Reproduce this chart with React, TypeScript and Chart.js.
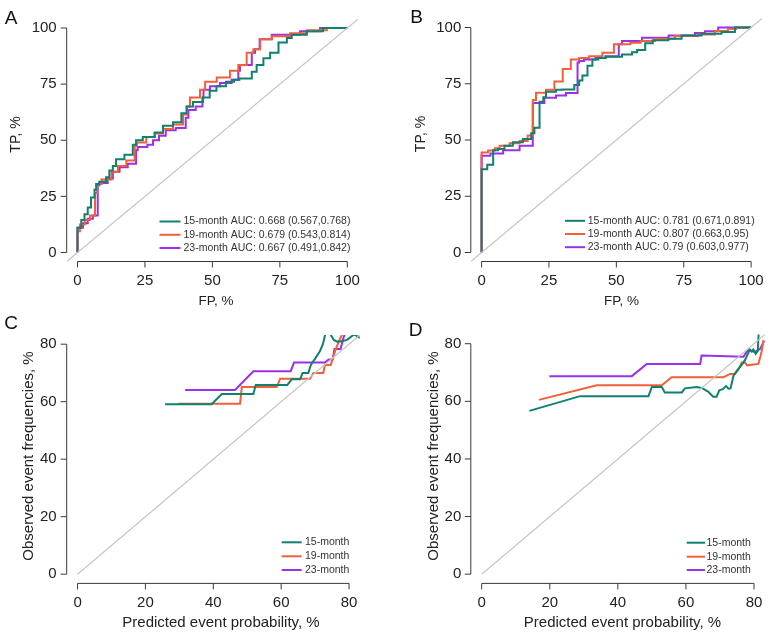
import React, { useEffect, useRef } from "react";
import { Chart, registerables } from "chart.js";

Chart.register(...registerables);

const FONT = "'Liberation Sans', Arial, Helvetica, sans-serif";
const TEAL = "#10806f";
const ORANGE = "#f0603a";
const PURPLE = "#9a30e8";
const DIAG = "#c6c6c6";
const AXIS = "#3a3a3a";
const TEXT = "#222222";

type Pt = [number, number];

// ---------- DATA ----------
const ROC_TICKS = [0, 25, 50, 75, 100];
const CAL_TICKS = [0, 20, 40, 60, 80];
const SERIES_NAMES = ["15-month", "19-month", "23-month"];
const COLORS = [TEAL, ORANGE, PURPLE];

const AUC_A = [
  "15-month AUC: 0.668 (0.567,0.768)",
  "19-month AUC: 0.679 (0.543,0.814)",
  "23-month AUC: 0.667 (0.491,0.842)",
];
const AUC_B = [
  "15-month AUC: 0.781 (0.671,0.891)",
  "19-month AUC: 0.807 (0.663,0.95)",
  "23-month AUC: 0.79 (0.603,0.977)",
];

// ROC A (FP %, TP %) - step points
const rocA15: Pt[] = [
  [0, 0], [0, 9], [1.4, 11], [2.6, 14.5], [3.8, 17], [5, 20], [6.3, 24.5], [6.9, 28], [8.1, 30.5],
  [10.6, 31.5], [11.8, 33.5], [13.1, 36.5], [14.3, 38.5], [17.4, 41.5], [20.5, 43.5], [21.7, 48],
  [24.2, 50], [28.6, 51.5], [31.7, 53.5], [35.4, 56.5], [38.5, 58], [40.4, 62], [42.8, 65], [46.5, 67],
  [49, 69], [51.5, 72], [55, 74], [58, 76], [60, 77], [64.6, 77.5], [66.4, 80.5], [68.9, 83.5],
  [71.4, 86.5], [74.5, 89], [77.6, 93.5], [79.4, 95.5], [85, 97], [91, 98.5], [96, 100], [100, 100],
];
const rocA19: Pt[] = [
  [0, 0], [0, 8], [0.9, 9.5], [2.7, 12.5], [4.6, 14.5], [6.5, 16.5], [7.3, 26.5], [8.9, 30.5],
  [12.6, 32.5], [15, 36], [18.1, 38.5], [21.2, 41], [22, 47.5], [25.5, 49], [28.6, 51.5], [31.7, 53],
  [35.4, 55], [39.1, 57], [40.6, 61.5], [41.7, 65], [45.4, 69], [47.3, 72.5], [51.6, 76], [56.5, 78],
  [59.6, 81], [62.7, 83.5], [65.2, 89], [67.7, 90.5], [72, 95], [78.8, 96.3], [85, 97.7], [92.4, 99],
  [99.8, 100], [100, 100],
];
const rocA23: Pt[] = [
  [0, 0], [0, 8.5], [2, 11], [3.8, 13], [5.7, 15], [7.5, 16.5], [8.1, 30], [11.2, 31], [13.1, 33],
  [15.6, 36], [18.6, 38], [21.7, 39.5], [22.3, 45.5], [25.9, 47], [28, 48], [30.2, 50], [32.7, 52],
  [36.4, 54.5], [40.1, 55.5], [41.1, 60], [43.8, 63.5], [46.3, 65], [46.7, 69], [49.1, 72.5],
  [52.8, 74], [57.1, 75.5], [59.6, 77], [60.2, 81], [64.6, 83.5], [65.8, 89], [67.5, 90.5], [72, 95],
  [82.5, 97], [89.9, 98.5], [96, 100], [100, 100],
];

// ROC B
const rocB15: Pt[] = [
  [0, 0], [0, 31], [2.1, 37], [4.3, 39], [6.1, 45.5], [8.5, 46], [11.6, 47.5], [15.3, 49], [18.4, 50.5],
  [19.6, 53], [21.5, 55.5], [22.9, 67], [23.9, 69], [27.6, 71.5], [30, 72.3], [34.4, 72.5], [36.2, 74.5],
  [37.4, 76.5], [39.3, 78.7], [41.1, 83], [43.3, 85.8], [46, 86.5], [52.1, 87], [55.8, 88], [57.7, 89],
  [60.7, 90], [63.5, 93], [69.3, 94.3], [74.2, 95], [81.6, 96.5], [89, 97.2], [94, 98], [95.8, 100],
  [100, 100],
];
const rocB19: Pt[] = [
  [0, 0], [0, 37.5], [2.4, 44.5], [4.9, 45.3], [6.7, 46.3], [10.4, 47.5], [14.1, 48.6], [17.1, 49.6],
  [19, 52], [20.2, 67.8], [23.9, 71], [27, 72.3], [30.1, 76], [33.1, 81.6], [36.2, 85.8], [39.9, 86.5],
  [44.8, 87.2], [49.1, 88.8], [55.2, 92.6], [59, 93.2], [64.4, 94], [71.7, 95], [80.3, 96.2],
  [86.5, 96.9], [91.4, 98.5], [94.4, 99.3], [96.5, 100], [100, 100],
];
const rocB23: Pt[] = [
  [0, 0], [0, 36.5], [3.3, 43], [8, 44], [14.1, 45.4], [19, 47.5], [23.3, 66.5], [27.6, 68.8],
  [31.3, 69.8], [35.6, 70.9], [36.2, 84.4], [38, 85.1], [42.3, 85.8], [46, 86.5], [50.9, 87.2],
  [52.1, 92.6], [59.5, 94], [69.4, 95.4], [79.2, 96.4], [82.9, 97.6], [87.8, 98.3], [90.8, 100],
  [100, 100],
];

// Calibration C (predicted %, observed %)
const calC15: Pt[] = [
  [25.8, 59.1], [39.5, 59.1], [42.5, 62.7], [51.8, 62.7], [52.5, 65.8], [61.8, 65.8], [63.1, 67.8],
  [65.6, 67.8], [66.3, 70], [68, 70], [68.8, 73], [70, 75], [71.4, 77.5], [72.3, 80], [73.1, 84],
  [74.5, 83.5], [75.5, 81.5], [76.5, 80.9], [78, 81], [79.5, 81.6], [81.5, 83.4], [83.2, 82.2],
];
const calC19: Pt[] = [
  [29.7, 59.3], [47.9, 59.3], [48.4, 65.1], [58.7, 65.1], [59.7, 68], [68.5, 68], [69.5, 70],
  [72.4, 70], [72.9, 72.8], [74.6, 72.8], [76, 78], [77, 81], [78.8, 85.5],
];
const calC23: Pt[] = [
  [31.7, 64.1], [46.4, 64.1], [51.8, 70.6], [62.8, 70.6], [63.8, 73.6], [72.9, 73.6], [73.9, 74.6],
  [75.2, 74.8], [75.7, 78.3], [77.5, 78.3], [78.3, 82], [79.3, 85.5],
];

// Calibration D
const calD15: Pt[] = [
  [14, 56.7], [28.9, 61.8], [49, 61.8], [50, 65], [52.9, 65], [53.8, 63.1], [58.8, 63.1], [59.7, 64.5],
  [63.2, 65], [64.8, 64.6], [66.6, 63.3], [68, 61.6], [69, 61.6], [69.8, 63.8], [70.8, 64.2],
  [71.8, 65.3], [72.5, 64.4], [73.1, 64.5], [74, 69], [75.1, 70.8], [76.1, 72.2], [77.3, 74.2],
  [78.2, 76.5], [78.8, 78], [79.3, 77.3], [79.8, 78], [80.5, 76.5], [81.1, 77.5], [81.4, 84.5],
];
const calD19: Pt[] = [
  [16.8, 60.5], [33.8, 65.6], [52.9, 65.6], [55.8, 68.4], [71, 68.4], [73, 69.5], [74.4, 69.5],
  [75.4, 71], [76.4, 73.5], [77.4, 73.4], [78, 72.5], [79.8, 72.8], [81.3, 73], [82.2, 77], [82.8, 81.3],
];
const calD23: Pt[] = [
  [19.9, 68.75], [44.1, 68.75], [48.5, 73], [64.2, 73], [64.6, 75.9], [76.9, 75.5], [78.3, 77.9],
  [79.2, 77.5], [80.2, 77.1], [81.8, 78.2], [83, 81],
];

const ROC_RANGE: Pt = [-4, 104];
const CAL_RANGE: Pt = [-3.2, 83.2];
const ROC_DIAG: Pt[] = [[-4, -4], [104, 104]];
const CAL_DIAG: Pt[] = [[0, 0], [83.2, 83.2]];

// ---------- LAYOUT ----------
interface PanelCfg {
  canvas: { x: number; y: number; w: number; h: number };
  area: { l: number; r: number; t: number; b: number };
  range: Pt;
  ticks: number[];
  series: Pt[][];
  stepped: boolean;
  diag: Pt[];
  legend: string[];
  legendLine: Pt;
  legendTextX: number;
  legendY: number[];
  letter: string;
  letterPos: Pt;
  xTitle: string;
  xTitlePos: Pt;
  xTitleSize: number;
  yTitle: string;
  yTitlePos: Pt;
  yTitleSize: number;
  yPad: number;
}

const PANELS: PanelCfg[] = [
  {
    canvas: { x: 0, y: 0, w: 387, h: 316 },
    area: { l: 66.7, r: 358.1, t: 9.0, b: 261.5 },
    range: ROC_RANGE, ticks: ROC_TICKS, series: [rocA15, rocA19, rocA23], stepped: true, diag: ROC_DIAG,
    legend: AUC_A, legendLine: [159.5, 180.5], legendTextX: 183.5, legendY: [221.5, 234.8, 248],
    letter: "A", letterPos: [11.2, 18.5],
    xTitle: "FP, %", xTitlePos: [216, 301.5], xTitleSize: 13.5,
    yTitle: "TP, %", yTitlePos: [16.5, 134.5], yTitleSize: 14,
    yPad: 10,
  },
  {
    canvas: { x: 387, y: 0, w: 387, h: 316 },
    area: { l: 470.8, r: 764.2, t: 7.3, b: 261.5 },
    range: ROC_RANGE, ticks: ROC_TICKS, series: [rocB15, rocB19, rocB23], stepped: true, diag: ROC_DIAG,
    legend: AUC_B, legendLine: [565, 585], legendTextX: 587.7, legendY: [220.8, 234, 247.2],
    letter: "B", letterPos: [416.5, 17.5],
    xTitle: "FP, %", xTitlePos: [621.5, 301.7], xTitleSize: 13.5,
    yTitle: "TP, %", yTitlePos: [421.3, 134], yTitleSize: 14,
    yPad: 9.5,
  },
  {
    canvas: { x: 0, y: 316, w: 387, h: 317 },
    area: { l: 66.7, r: 359.9, t: 329.9, b: 583.4 },
    range: CAL_RANGE, ticks: CAL_TICKS, series: [calC15, calC19, calC23], stepped: false, diag: CAL_DIAG,
    legend: SERIES_NAMES, legendLine: [281.7, 301.7], legendTextX: 305, legendY: [542.3, 556.3, 570],
    letter: "C", letterPos: [11, 323.7],
    xTitle: "Predicted event probability, %", xTitlePos: [221, 623.3], xTitleSize: 15,
    yTitle: "Observed event frequencies, %", yTitlePos: [29, 456], yTitleSize: 15,
    yPad: 10,
  },
  {
    canvas: { x: 387, y: 316, w: 387, h: 317 },
    area: { l: 470.8, r: 764.9, t: 329.9, b: 583.4 },
    range: CAL_RANGE, ticks: CAL_TICKS, series: [calD15, calD19, calD23], stepped: false, diag: CAL_DIAG,
    legend: SERIES_NAMES, legendLine: [686.7, 705], legendTextX: 706.5, legendY: [542.7, 556.7, 570],
    letter: "D", letterPos: [415.5, 331],
    xTitle: "Predicted event probability, %", xTitlePos: [622.5, 623.3], xTitleSize: 15,
    yTitle: "Observed event frequencies, %", yTitlePos: [433.5, 456], yTitleSize: 15,
    yPad: 9.5,
  },
];

function makeDecor(cfg: PanelCfg) {
  return {
    id: "decor" + cfg.letter,
    afterDraw(chart: any) {
      const ctx: CanvasRenderingContext2D = chart.ctx;
      const xs = chart.scales.x;
      const ys = chart.scales.y;
      const ca = chart.chartArea;
      const ox = cfg.canvas.x;
      const oy = cfg.canvas.y;
      const t0 = cfg.ticks[0];
      const t1 = cfg.ticks[cfg.ticks.length - 1];
      ctx.save();
      // R-style axes
      ctx.strokeStyle = AXIS;
      ctx.lineWidth = 1;
      ctx.beginPath();
      ctx.moveTo(ca.left, ys.getPixelForValue(t0));
      ctx.lineTo(ca.left, ys.getPixelForValue(t1));
      for (const t of cfg.ticks) {
        const p = ys.getPixelForValue(t);
        ctx.moveTo(ca.left, p);
        ctx.lineTo(ca.left - 6, p);
      }
      ctx.moveTo(xs.getPixelForValue(t0), ca.bottom);
      ctx.lineTo(xs.getPixelForValue(t1), ca.bottom);
      for (const t of cfg.ticks) {
        const p = xs.getPixelForValue(t);
        ctx.moveTo(p, ca.bottom);
        ctx.lineTo(p, ca.bottom + 6);
      }
      ctx.stroke();

      // legend
      ctx.font = `10.5px ${FONT}`;
      ctx.textBaseline = "middle";
      ctx.textAlign = "left";
      cfg.legend.forEach((lab, i) => {
        const y = cfg.legendY[i] - oy;
        ctx.strokeStyle = COLORS[i];
        ctx.lineWidth = 2;
        ctx.beginPath();
        ctx.moveTo(cfg.legendLine[0] - ox, y);
        ctx.lineTo(cfg.legendLine[1] - ox, y);
        ctx.stroke();
        ctx.fillStyle = "#333";
        ctx.fillText(lab, cfg.legendTextX - ox, y);
      });

      // titles
      ctx.fillStyle = TEXT;
      ctx.textAlign = "center";
      ctx.font = `${cfg.xTitleSize}px ${FONT}`;
      ctx.fillText(cfg.xTitle, cfg.xTitlePos[0] - ox, cfg.xTitlePos[1] - oy);
      ctx.save();
      ctx.translate(cfg.yTitlePos[0] - ox, cfg.yTitlePos[1] - oy);
      ctx.rotate(-Math.PI / 2);
      ctx.font = `${cfg.yTitleSize}px ${FONT}`;
      ctx.fillText(cfg.yTitle, 0, 0);
      ctx.restore();

      // panel letter
      ctx.font = `19px ${FONT}`;
      ctx.fillStyle = "#111";
      ctx.fillText(cfg.letter, cfg.letterPos[0] - ox, cfg.letterPos[1] - oy);
      ctx.restore();
    },
  };
}

function Panel({ cfg }: { cfg: PanelCfg }) {
  const ref = useRef<HTMLCanvasElement | null>(null);
  useEffect(() => {
    if (!ref.current) return;
    const { canvas, area } = cfg;
    const tickFont = { family: FONT, size: 15 };
    const datasets: any[] = [
      {
        label: "diag",
        data: cfg.diag.map(([x, y]) => ({ x, y })),
        showLine: true,
        borderColor: DIAG,
        borderWidth: 1.2,
        pointRadius: 0,
      },
    ];
    cfg.series.forEach((s, i) => {
      datasets.push({
        label: SERIES_NAMES[i],
        data: s.map(([x, y]) => ({ x, y })),
        showLine: true,
        stepped: cfg.stepped ? "after" : false,
        borderColor: COLORS[i],
        borderWidth: 2,
        pointRadius: 0,
        tension: 0,
      });
    });
    const chart = new Chart(ref.current, {
      type: "scatter",
      data: { datasets },
      plugins: [makeDecor(cfg)],
      options: {
        animation: false,
        responsive: false,
        maintainAspectRatio: false,
        events: [],
        layout: {
          padding: {
            left: 0,
            top: area.t - canvas.y,
            right: canvas.x + canvas.w - area.r,
            bottom: 0,
          },
        },
        plugins: { legend: { display: false }, tooltip: { enabled: false }, title: { display: false } },
        scales: {
          x: {
            type: "linear",
            position: "bottom",
            min: cfg.range[0],
            max: cfg.range[1],
            grid: { display: false, drawTicks: false },
            border: { display: false },
            afterBuildTicks: (s: any) => {
              s.ticks = cfg.ticks.map((v) => ({ value: v }));
            },
            afterFit: (s: any) => {
              s.height = canvas.y + canvas.h - area.b;
            },
            ticks: {
              font: tickFont,
              color: TEXT,
              padding: 10,
              maxRotation: 0,
              autoSkip: false,
            },
          },
          y: {
            type: "linear",
            position: "left",
            min: cfg.range[0],
            max: cfg.range[1],
            grid: { display: false, drawTicks: false },
            border: { display: false },
            afterBuildTicks: (s: any) => {
              s.ticks = cfg.ticks.map((v) => ({ value: v }));
            },
            afterFit: (s: any) => {
              s.width = area.l - canvas.x;
            },
            ticks: {
              font: tickFont,
              color: TEXT,
              padding: cfg.yPad,
              autoSkip: false,
            },
          },
        },
      } as any,
    });
    return () => chart.destroy();
  }, [cfg]);
  return (
    <canvas
      ref={ref}
      width={cfg.canvas.w}
      height={cfg.canvas.h}
      style={{
        position: "absolute",
        left: cfg.canvas.x,
        top: cfg.canvas.y,
        width: cfg.canvas.w,
        height: cfg.canvas.h,
      }}
    />
  );
}

export default function App() {
  return (
    <div
      style={{
        position: "absolute",
        left: 0,
        top: 0,
        width: 774,
        height: 633,
        background: "#ffffff",
        overflow: "hidden",
      }}
    >
      {PANELS.map((p) => (
        <Panel key={p.letter} cfg={p} />
      ))}
    </div>
  );
}
